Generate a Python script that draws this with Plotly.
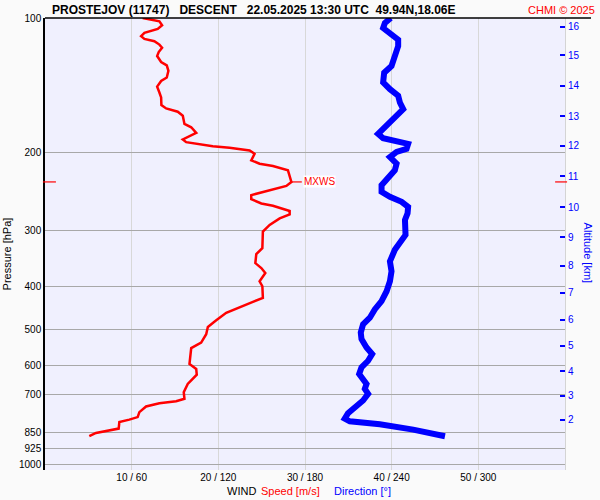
import numpy as np
import plotly.graph_objects as go

# ---- data ----
speed_p = [100, 101.7, 103.8, 105.8, 108.0, 109.8, 111.4, 112.7, 114.7, 116.6,
           119.2, 121.7, 125.5, 127.7, 131.4, 136.0, 138.4, 142.5, 146.9, 150.7,
           156.8, 159.5, 162.2, 165.6, 172.8, 175.8, 181.0, 184.1, 187.2, 189.8,
           193.8, 195.5, 198.1, 201.6, 208.5, 212.2, 214.7, 219.5, 227.2, 233.1,
           237.9, 244.5, 249.5, 254.7, 260.5, 263.6, 270.8, 275.6, 281.3, 291.1,
           301.2, 328.1, 338.4, 354.4, 363.6, 373.0, 389.3, 399.4, 424.1, 432.9,
           444.8, 458.0, 476.2, 492.8, 511.6, 534.1, 549.7, 586.8, 596.8, 612.3,
           630.5, 661.2, 690.3, 714.1, 722.9, 730.4, 742.8, 764.9, 784.8, 795.3,
           805.2, 832.8, 843.1, 851.8, 866.3]
speed_ms = [11.27, 13.20, 13.51, 13.01, 11.47, 11.09, 11.47, 12.62, 13.20, 13.51,
            13.12, 12.94, 13.40, 14.05, 14.24, 14.05, 13.40, 12.94, 13.20, 13.40,
            13.43, 13.98, 15.32, 15.90, 16.09, 16.87, 17.45, 16.67, 15.90, 16.29,
            19.36, 21.29, 23.61, 24.18, 23.80, 24.76, 26.30, 28.03, 28.31, 28.43,
            27.85, 25.54, 23.80, 23.80, 24.96, 26.30, 28.23, 28.23, 27.08, 25.92,
            25.14, 25.08, 24.38, 24.27, 24.96, 25.42, 24.76, 25.08, 25.14, 23.99,
            22.45, 20.91, 19.76, 18.79, 18.60, 18.02, 16.87, 16.67, 16.67, 17.45,
            17.51, 16.47, 16.01, 16.09, 15.13, 13.20, 11.66, 10.89, 10.69, 9.73,
            8.58, 8.50, 7.04, 5.88, 5.11]

dir_p = [100, 102.6, 105.3, 108.0, 111.8, 115.6, 121.7, 128.1, 132.6, 139.5,
         144.4, 149.4, 154.7, 160.1, 164.2, 171.4, 177.4, 181.9, 186.0, 188.2,
         191.5, 196.5, 199.7, 205.0, 212.2, 219.5, 227.2, 237.1, 245.4, 251.7,
         258.3, 265.0, 274.2, 283.6, 306.4, 317.1, 330.9, 351.3, 369.8, 389.3,
         409.8, 431.4, 450.1, 469.9, 486.1, 507.4, 524.8, 548.0, 566.9, 586.8,
         607.3, 628.1, 644.5, 661.2, 678.4, 696.0, 720.3, 745.5, 768.9, 791.2,
         802.3, 814.7, 837.1, 866.3]
dir_deg = [239.4, 235.3, 234.1, 238.8, 244.5, 244.5, 242.2, 239.9, 234.8, 234.1,
           238.8, 244.5, 245.7, 248.0, 244.5, 238.8, 234.1, 230.6, 234.1, 243.4,
           251.4, 250.3, 243.4, 238.8, 243.4, 242.2, 237.6, 233.0, 233.0, 238.8,
           246.9, 251.4, 251.0, 249.2, 249.6, 245.7, 242.2, 238.8, 239.9, 238.8,
           236.5, 233.0, 228.3, 224.9, 220.2, 218.6, 219.1, 222.6, 226.5, 223.7,
           219.1, 217.5, 220.2, 222.6, 221.4, 223.7, 220.2, 214.5, 209.8, 207.5,
           211.0, 231.8, 254.9, 276.9]

p_ticks = [100, 200, 300, 400, 500, 600, 700, 850, 925, 1000]
p_labels = [str(v) for v in p_ticks]
wind_ticks = [10, 20, 30, 40, 50]
wind_labels = ["10 / 60", "20 / 120", "30 / 180", "40 / 240", "50 / 300"]
alt_km = [2, 3, 4, 5, 6, 7, 8, 9, 10, 11, 12, 13, 14, 15, 16]
alt_p = [796.5, 703.1, 619.8, 543.3, 474.7, 413.4, 359.1, 310.1, 265.9, 226.4,
         193.4, 165.9, 141.9, 121.1, 104.7]
mxws_speed = 28.43
mxws_p = 233.1

FONT = "Liberation Sans, Arial, sans-serif"
yr = [3.0134, 2.0]

fig = go.Figure()
fig.add_trace(go.Scatter(x=speed_ms, y=speed_p, mode="lines",
                         line=dict(color="#ff0000", width=2.5),
                         xaxis="x", yaxis="y", showlegend=False))
fig.add_trace(go.Scatter(x=dir_deg, y=dir_p, mode="lines",
                         line=dict(color="#0000ff", width=6),
                         xaxis="x2", yaxis="y2", showlegend=False))

fig.update_layout(
    width=600, height=500,
    margin=dict(l=45, r=35, t=15, b=30),
    paper_bgcolor="#fafafa", plot_bgcolor="#f0f0fe",
    font=dict(family=FONT, size=10, color="#000"),
    xaxis=dict(range=[0, 60], tickvals=wind_ticks, ticktext=wind_labels,
               showgrid=True, gridcolor="#d8d8d8", gridwidth=1, zeroline=False,
               showline=False, ticks="", tickfont=dict(size=10, color="#000")),
    xaxis2=dict(range=[0, 360], overlaying="x", visible=False, anchor="y2"),
    yaxis=dict(type="log", range=yr, tickvals=p_ticks, ticktext=p_labels,
               showgrid=True, gridcolor="#a8a8a8", gridwidth=1, zeroline=False,
               showline=True, linecolor="#000", linewidth=1.5, ticks="",
               tickfont=dict(size=10, color="#000")),
    yaxis2=dict(type="log", range=yr, overlaying="y", side="right", anchor="x2",
                tickvals=alt_p, ticktext=[str(v) for v in alt_km],
                showgrid=False, zeroline=False, showline=True,
                linecolor="#d4d4d4", linewidth=1,
                ticks="inside", ticklen=5, tickwidth=1.5, tickcolor="#0000ff",
                tickfont=dict(size=10, color="#0000ff")),
)

mlog = float(np.log10(mxws_p))
# fraction of the plot height for the MXWS level (reversed log axis)
mfrac = (yr[0] - mlog) / (yr[0] - yr[1])
shapes = [
    dict(type="line", xref="paper", yref="paper", x0=0, x1=1.05, y0=1, y1=1,
         line=dict(color="#000", width=1.5)),
    dict(type="line", xref="paper", yref="paper", x0=-0.004, x1=0.021,
         y0=mfrac, y1=mfrac, line=dict(color="#ff0000", width=1.2)),
    dict(type="line", xref="paper", yref="paper", x0=0.981, x1=1.004,
         y0=mfrac, y1=mfrac, line=dict(color="#ff0000", width=1.2)),
    dict(type="line", xref="x", yref="paper", x0=mxws_speed, x1=mxws_speed + 1.2,
         y0=mfrac, y1=mfrac, line=dict(color="#ff0000", width=1.2)),
]
fig.update_layout(shapes=shapes)

ann = [
    dict(text="<b>PROSTEJOV (11747)   DESCENT   22.05.2025 13:30 UTC  49.94N,18.06E</b>",
         xref="paper", yref="paper", x=0.0096, y=1.0176, xanchor="left", yanchor="middle",
         showarrow=False, font=dict(size=12, color="#000")),
    dict(text="CHMI © 2025", xref="paper", yref="paper", x=1.0615, y=1.0176,
         xanchor="right", yanchor="middle", showarrow=False,
         font=dict(size=11, color="#ff0000")),
    dict(text="Pressure [hPa]", xref="paper", yref="paper", x=-0.073, y=0.477,
         xanchor="center", yanchor="middle", textangle=-90, showarrow=False,
         font=dict(size=11, color="#000")),
    dict(text="Altitude [km]", xref="paper", yref="paper", x=1.044, y=0.479,
         xanchor="center", yanchor="middle", textangle=90, showarrow=False,
         font=dict(size=11, color="#0000ff")),
    dict(text="WIND", xref="paper", yref="paper", x=0.346, y=-0.046,
         xanchor="left", yanchor="middle", showarrow=False,
         font=dict(size=11, color="#000")),
    dict(text="Speed [m/s]", xref="paper", yref="paper", x=0.4115, y=-0.046,
         xanchor="left", yanchor="middle", showarrow=False,
         font=dict(size=11, color="#ff0000")),
    dict(text="Direction [°]", xref="paper", yref="paper", x=0.552, y=-0.046,
         xanchor="left", yanchor="middle", showarrow=False,
         font=dict(size=11, color="#0000ff")),
    dict(text="MXWS", xref="x", yref="paper", x=mxws_speed + 1.3, y=mfrac,
         xanchor="left", yanchor="middle", showarrow=False, bgcolor="#ffffff",
         borderpad=0, font=dict(size=10, color="#ff0000")),
]
fig.update_layout(annotations=ann)

fig.write_html("out.html", config={"displayModeBar": False},
               post_script="document.body.style.margin='0px';document.body.style.overflow='hidden';")
